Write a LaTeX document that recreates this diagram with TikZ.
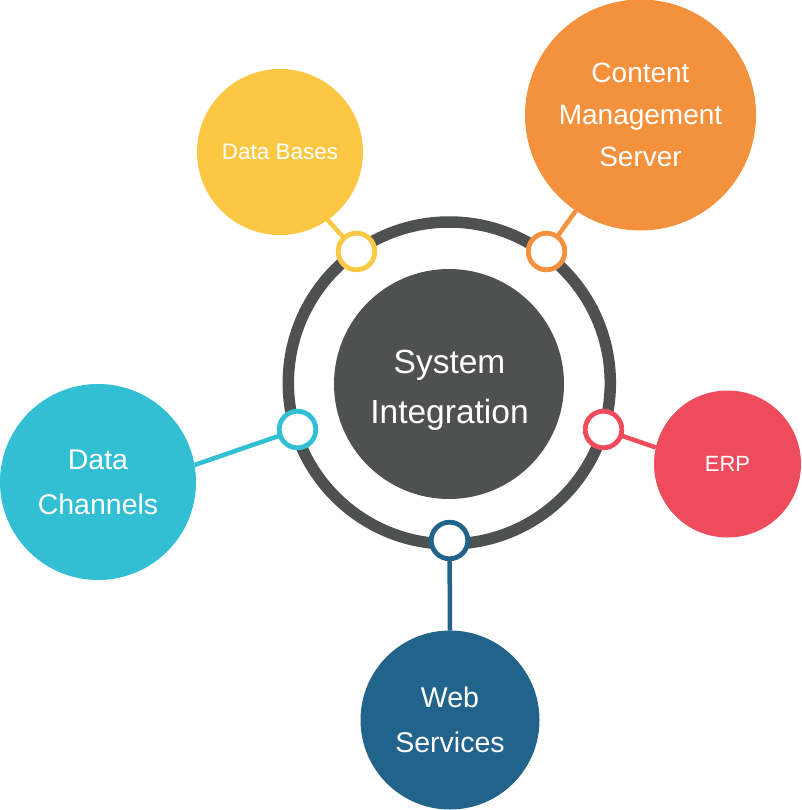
\documentclass[tikz,border=0pt]{standalone}
\usepackage{fontspec}
\setmainfont{Liberation Sans}
\usetikzlibrary{backgrounds}

\definecolor{hubgray}{HTML}{4F5150}
\definecolor{dbAmber}{HTML}{FCC843}
\definecolor{cmsOrange}{HTML}{F3913D}
\definecolor{erpRed}{HTML}{EE4B5C}
\definecolor{dcCyan}{HTML}{33BFD3}
\definecolor{wsBlue}{HTML}{22638C}

\begin{document}
\begin{tikzpicture}[x=1pt,y=-1pt,
  sat/.style={circle, fill=#1, text=white, inner sep=0pt, outer sep=0pt, align=center},
  port/.style={circle, draw=#1, line width=4.8pt, fill=white, minimum size=36.6pt, inner sep=0pt, outer sep=0pt},
  link/.style={draw=#1, line width=4.5pt},
]
\useasboundingbox (0,0) rectangle (801,810);

% central hub: outer ring and filled core
\node[circle, draw=hubgray, line width=11.5pt, minimum size=322pt, inner sep=0pt, outer sep=0pt] (ring) at (449.3,383) {};
\node[circle, fill=hubgray, minimum size=230pt, inner sep=0pt] (hub) at (449,384) {};
\node[text=white, align=center, font=\fontsize{33.5}{50}\selectfont] (hubtext) at (449.5,389.8) {System\\Integration};

% satellites
\node[sat=dbAmber, minimum size=166pt, font=\fontsize{22.5}{27}\selectfont] (db) at (280,152) {Data Bases};
\node[sat=cmsOrange, minimum size=231pt, font=\fontsize{28}{41.7}\selectfont] (cms) at (640.5,115) {Content\\Management\\Server};
\node[sat=erpRed, minimum size=147pt, font=\fontsize{22}{26}\selectfont] (erp) at (727.5,464) {ERP};
\node[sat=dcCyan, minimum size=196pt, font=\fontsize{28.5}{45}\selectfont] (dc) at (98,482) {Data\\Channels};
\node[sat=wsBlue, minimum size=179pt, font=\fontsize{28.5}{44.4}\selectfont] (ws) at (450,720) {Web\\Services};

% ports on the ring
\node[port=dbAmber] (pdb) at (356.5,251.5) {};
\node[port=cmsOrange] (pcms) at (546.5,251.5) {};
\node[port=erpRed] (perp) at (603.5,429.5) {};
\node[port=dcCyan] (pdc) at (297.5,429.5) {};
\node[port=wsBlue] (pws) at (449.5,540.5) {};

% connectors behind everything
\begin{pgfonlayer}{background}
\draw[link=dbAmber] (pdb.center) -- (db.-55);
\draw[link=cmsOrange] (pcms.center) -- (cms.-124);
\draw[link=erpRed] (perp.center) -- (erp.167.5);
\draw[link=dcCyan] (pdc.center) -- (dc.10.4);
\draw[link=wsBlue] (pws.center) -- (ws.90);
\end{pgfonlayer}
\end{tikzpicture}
\end{document}
